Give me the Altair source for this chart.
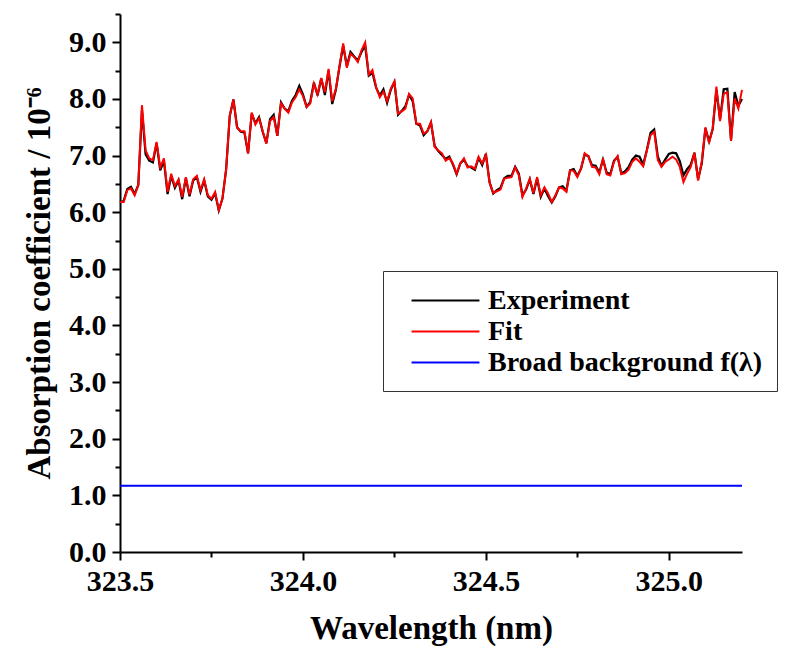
import altair as alt
import pandas as pd

# wavelength grid: 323.50 .. 325.20 nm, step 0.01
n_points = 171
wl_start = 323.50
wl_step = 0.01

fit = [
    6.18, 6.18, 6.39, 6.42, 6.30, 6.48, 7.89, 7.09, 6.95, 6.92,
    7.24, 6.79, 6.95, 6.36, 6.68, 6.46, 6.58, 6.27, 6.62, 6.31,
    6.58, 6.64, 6.39, 6.58, 6.30, 6.24, 6.36, 6.04, 6.24,
    6.75, 7.71, 7.99, 7.49, 7.43, 7.43, 7.04, 7.76, 7.55, 7.66,
    7.43, 7.21, 7.61, 7.68, 7.35, 7.92, 7.83, 7.76, 7.94, 8.03,
    8.17, 8.05, 7.86, 7.92, 8.27, 8.08, 8.37, 8.12,
    8.53, 7.96, 8.18, 8.59, 8.98, 8.55, 8.80, 8.74, 8.65, 8.86,
    9.00, 8.43, 8.51, 8.21, 8.03, 8.13, 7.96, 8.18, 8.31, 7.74,
    7.78, 7.83, 8.09, 8.01, 7.56, 7.56, 7.39, 7.43,
    7.59, 7.15, 7.09, 7.04, 6.91, 6.96, 6.86, 6.68, 6.86, 6.95,
    6.79, 6.81, 6.77, 6.98, 6.86, 7.01, 6.53, 6.34, 6.37, 6.40,
    6.59, 6.61, 6.62, 6.79, 6.65, 6.27, 6.42, 6.59,
    6.34, 6.62, 6.30, 6.44, 6.33, 6.18, 6.30, 6.44, 6.42, 6.36,
    6.74, 6.73, 6.62, 6.77, 7.04, 6.99, 6.80, 6.79, 6.67, 6.95,
    6.67, 6.65, 6.89, 6.99, 6.67, 6.69, 6.75, 6.89,
    6.95, 6.89, 6.81, 7.09, 7.36, 7.42, 6.92, 6.80, 6.89, 6.93,
    6.98, 6.93, 6.80, 6.53, 6.68, 6.80, 7.05, 6.56, 6.89, 7.50,
    7.22, 7.48, 8.22, 7.61, 8.09, 8.12, 7.26, 8.01, 7.83, 8.16,
]

experiment = [
    6.17, 6.20, 6.41, 6.45, 6.32, 6.48, 7.80, 7.02, 6.91, 6.88,
    7.22, 6.74, 6.91, 6.32, 6.64, 6.43, 6.56, 6.23, 6.60, 6.28,
    6.56, 6.62, 6.36, 6.56, 6.28, 6.22, 6.33, 6.03, 6.24,
    6.75, 7.70, 7.99, 7.50, 7.42, 7.41, 7.04, 7.74, 7.57, 7.68,
    7.42, 7.22, 7.64, 7.72, 7.35, 7.94, 7.83, 7.78, 7.97, 8.07,
    8.23, 8.08, 7.86, 7.95, 8.29, 8.06, 8.36, 8.07,
    8.50, 7.91, 8.16, 8.57, 8.94, 8.58, 8.83, 8.75, 8.68, 8.83,
    8.94, 8.41, 8.46, 8.20, 8.06, 8.17, 7.93, 8.16, 8.30, 7.72,
    7.79, 7.87, 8.07, 7.96, 7.56, 7.53, 7.36, 7.43,
    7.58, 7.17, 7.08, 7.01, 6.94, 6.98, 6.84, 6.67, 6.86, 6.93,
    6.81, 6.79, 6.75, 6.96, 6.83, 7.03, 6.53, 6.33, 6.39, 6.43,
    6.60, 6.64, 6.64, 6.80, 6.68, 6.30, 6.40, 6.58,
    6.32, 6.59, 6.27, 6.42, 6.28, 6.17, 6.28, 6.44, 6.46, 6.38,
    6.74, 6.76, 6.64, 6.77, 7.02, 6.99, 6.83, 6.82, 6.70, 6.93,
    6.70, 6.67, 6.91, 6.98, 6.69, 6.72, 6.80, 6.93,
    7.00, 6.98, 6.84, 7.10, 7.40, 7.46, 6.98, 6.82, 6.93, 7.03,
    7.05, 7.04, 6.90, 6.65, 6.76, 6.84, 7.05, 6.58, 6.86, 7.48,
    7.25, 7.47, 8.16, 7.64, 8.17, 8.18, 7.27, 8.12, 7.88, 8.00,
]

background_level = 1.17

series_names = ["Experiment", "Fit", "Broad background f(λ)"]
series_colors = ["#000000", "#ff0000", "#0000ff"]

y_major = [0, 1, 2, 3, 4, 5, 6, 7, 8, 9]
y_minor = [0.5, 1.5, 2.5, 3.5, 4.5, 5.5, 6.5, 7.5, 8.5, 9.5]
x_major = [323.5, 324.0, 324.5, 325.0]
x_minor = [323.75, 324.25, 324.75]

wl = [round(wl_start + i * wl_step, 2) for i in range(n_points)]

df_exp = pd.DataFrame({"wl": wl, "val": experiment, "series": series_names[0]})
df_fit = pd.DataFrame({"wl": wl, "val": fit, "series": series_names[1]})
df_bg = pd.DataFrame({"wl": wl, "val": [background_level] * n_points, "series": series_names[2]})

FONT = "Liberation Serif"

xscale = alt.Scale(domain=[323.5, 325.2], nice=False, zero=False)
yscale = alt.Scale(domain=[0, 9.5], nice=False, zero=False)

color = alt.Color(
    "series:N",
    scale=alt.Scale(domain=series_names, range=series_colors),
    sort=series_names,
    legend=alt.Legend(
        title=None,
        orient="none",
        legendX=263,
        legendY=257,
        symbolType="M-2.4,0H2.4",
        symbolSize=800,
        symbolStrokeWidth=2,
        symbolOffset=33,
        labelFont=FONT,
        labelFontSize=28,
        labelFontWeight="bold",
        labelColor="#000000",
        labelOffset=27,
        labelLimit=400,
        rowPadding=1,
        padding=14,
        fillColor="#ffffff",
        strokeColor="#333333",
        cornerRadius=0,
    ),
)

x_main = alt.X(
    "wl:Q",
    scale=xscale,
    axis=alt.Axis(
        orient="bottom",
        values=x_major,
        format=".1f",
        title="Wavelength (nm)",
        grid=False,
        domainColor="#000000",
        domainWidth=2,
        tickColor="#000000",
        tickWidth=2,
        tickSize=8,
        labelFont=FONT,
        labelFontSize=30,
        labelFontWeight="bold",
        labelColor="#000000",
        labelPadding=6,
        labelFlush=False,
        titleFont=FONT,
        titleFontSize=33,
        titleFontWeight="bold",
        titleColor="#000000",
        titlePadding=16,
    ),
)

y_main = alt.Y(
    "val:Q",
    scale=yscale,
    axis=alt.Axis(
        orient="left",
        values=y_major,
        format=".1f",
        title="Absorption coefficient / 10⁻⁶",
        grid=False,
        domainColor="#000000",
        domainWidth=2,
        tickColor="#000000",
        tickWidth=2,
        tickSize=8,
        labelFont=FONT,
        labelFontSize=30,
        labelFontWeight="bold",
        labelColor="#000000",
        labelPadding=6,
        labelFlush=False,
        titleFont=FONT,
        titleFontSize=33,
        titleFontWeight="bold",
        titleColor="#000000",
        titlePadding=12,
    ),
)

x_minor_enc = alt.X(
    "wl:Q",
    scale=xscale,
    axis=alt.Axis(
        orient="bottom",
        values=x_minor,
        labels=False,
        title=None,
        grid=False,
        domain=False,
        tickColor="#000000",
        tickWidth=2,
        tickSize=5,
    ),
)

y_minor_enc = alt.Y(
    "val:Q",
    scale=yscale,
    axis=alt.Axis(
        orient="left",
        values=y_minor,
        labels=False,
        title=None,
        grid=False,
        domain=False,
        tickColor="#000000",
        tickWidth=2,
        tickSize=5,
    ),
)

exp_layer = alt.Chart(df_exp).mark_line(strokeWidth=2.2).encode(
    x=x_main, y=y_main, color=color
)
fit_layer = alt.Chart(df_fit).mark_line(strokeWidth=2).encode(
    x=alt.X("wl:Q", scale=xscale, axis=None),
    y=alt.Y("val:Q", scale=yscale, axis=None),
    color=color,
)
bg_layer = alt.Chart(df_bg).mark_line(strokeWidth=1.8).encode(
    x=x_minor_enc, y=y_minor_enc, color=color
)

chart = (
    alt.layer(bg_layer, exp_layer, fit_layer)
    .resolve_axis(x="independent", y="independent")
    .resolve_scale(x="shared", y="shared", color="shared")
    .properties(
        width=622,
        height=538,
        autosize=alt.AutoSizeParams(type="none"),
        padding={"left": 112, "top": 6, "right": 38, "bottom": 98},
        background="#ffffff",
    )
    .configure_axis(labelFont=FONT, titleFont=FONT)
    .configure_view(stroke=None)
)

chart.save("out.html", embed_options={"renderer": "svg", "actions": False})
